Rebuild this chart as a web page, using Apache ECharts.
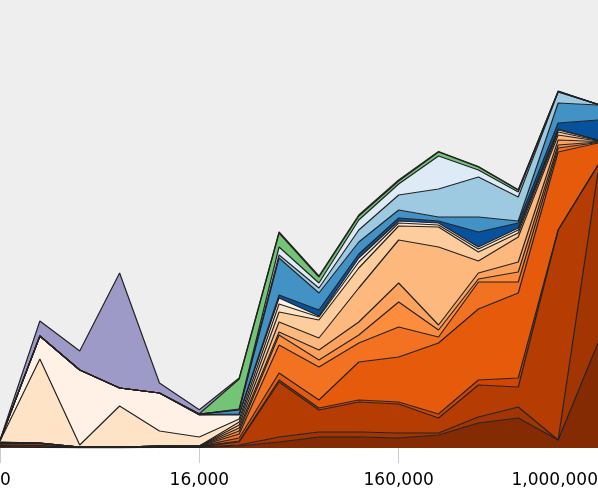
<!DOCTYPE html>
<html>
<head>
<meta charset="utf-8">
<script src="https://cdn.jsdelivr.net/npm/echarts@6.0.0/dist/echarts.min.js"></script>
<style>
  html, body { margin: 0; padding: 0; background: #fff; }
  #main { width: 598px; height: 491px; }
</style>
</head>
<body>
<div id="main"></div>
<script>
// x positions (16 bins), only some carry a tick label
var xLabels = ['0', '', '', '', '', '16,000', '', '', '', '', '160,000', '', '', '', '', '1,000,000'];

// stacked layers, bottom to top
var darkBrown  = [1, 0.5, 0.3, 0.3, 0.5, 0.5, 2, 6, 11, 11, 10, 13, 25, 30, 8, 105];
var brown      = [0.5, 0.5, 0, 0, 0.3, 0.3, 1, 5, 5, 5, 5, 2, 6, 11, 0, 171];
var rust       = [1, 1, 0.3, 0.3, 0.5, 0.5, 3, 55, 22, 30, 29, 15, 32, 20, 210, 7];
var rustThin   = [0.5, 0.5, 0, 0, 0, 0, 1, 2, 2, 2, 2, 4, 5, 9, 0, 0];
var orange     = [1, 1.5, 0.4, 0.4, 0.5, 0.5, 3, 7, 8, 38, 45, 71, 71, 85, 78, 22];
var orange2    = [0.5, 0.5, 0, 0, 0.2, 0.2, 4, 28, 33, 19, 30, 6, 27, 11, 4, 0.5];
var orange3    = [0.5, 0.3, 0, 0, 0, 0, 3, 10, 7, 8, 25, 7, 3, 10, 3, 0.5];
var orange4    = [0.3, 0.2, 0, 0, 0, 0, 3, 3, 10, 13, 19, 5, 6, 10, 5, 0.5];
var peach1     = [0.3, 0, 0, 0, 0, 0, 3, 10, 12, 34, 43, 78, 12, 25, 5, 0.5];
var peach2     = [0.3, 0, 0, 0, 0, 0, 3, 10, 18, 20, 14, 20, 9, 4, 3, 0.5];
var peach3     = [1, 84, 2, 41, 15, 9, 3, 8, 3, 6, 3, 2, 3, 3, 2, 0.5];
var cream      = [0.5, 23, 75, 18, 38, 22, 4, 6, 1, 4, 2, 2, 2, 2, 1, 0];
var navy       = [0, 0, 0, 0, 0, 0.3, 1, 3, 6, 4, 3, 2, 15, 5, 6, 20];
var blue       = [0, 0, 0, 0, 0, 0.5, 4, 37, 17, 12, 8, 4, 15, 2, 20, 15];
var skyBlue    = [0, 0, 0, 0, 0, 0, 0.5, 3, 5, 12, 15, 28, 40, 24, 11, 0.5];
var paleBlue   = [0, 0, 0, 0, 0, 0, 0.5, 8, 5, 10, 11, 33, 7, 5, 0.3, 0];
var green      = [0, 0, 0, 0, 0, 0.5, 30, 14, 6, 4, 3, 4, 3, 2, 0.3, 0];
var purple     = [0.5, 15, 19, 115, 10, 4, 1, 1, 1, 1, 1, 0.5, 0.5, 0.3, 0.3, 0];

var layers = [
    { name: 'darkBrown', data: darkBrown, color: '#842b04' },
    { name: 'brown', data: brown, color: '#a33503' },
    { name: 'rust', data: rust, color: '#b53c02' },
    { name: 'rustThin', data: rustThin, color: '#d34602' },
    { name: 'orange', data: orange, color: '#e65a0c' },
    { name: 'orange2', data: orange2, color: '#f27222' },
    { name: 'orange3', data: orange3, color: '#fd8d3c' },
    { name: 'orange4', data: orange4, color: '#fda25c' },
    { name: 'peach1', data: peach1, color: '#fdb97d' },
    { name: 'peach2', data: peach2, color: '#fdcd9d' },
    { name: 'peach3', data: peach3, color: '#fee3c6' },
    { name: 'cream', data: cream, color: '#fff1e5' },
    { name: 'navy', data: navy, color: '#08519c' },
    { name: 'blue', data: blue, color: '#4292c6' },
    { name: 'skyBlue', data: skyBlue, color: '#9ecae1' },
    { name: 'paleBlue', data: paleBlue, color: '#deebf7' },
    { name: 'green', data: green, color: '#74c476' },
    { name: 'purple', data: purple, color: '#9e9ac8' }
];

var myChart = echarts.init(document.getElementById('main'));

var hasLabel = function (idx) { return xLabels[idx] !== ''; };

myChart.setOption({
    animation: false,
    grid: {
        left: 0, right: 0, top: 0, bottom: 43,
        outerBoundsMode: 'none',
        containLabel: false,
        show: true,
        backgroundColor: '#eeeeee',
        borderWidth: 0
    },
    xAxis: {
        type: 'category',
        data: xLabels,
        boundaryGap: false,
        axisLine: { show: false },
        axisTick: {
            show: true,
            interval: hasLabel,
            length: 15,
            lineStyle: { color: '#cccccc', width: 1 }
        },
        axisLabel: {
            interval: hasLabel,
            margin: 24,
            fontSize: 17,
            fontFamily: 'DejaVu Sans',
            color: '#000',
            alignMinLabel: 'left',
            alignMaxLabel: 'right'
        },
        splitLine: { show: false }
    },
    yAxis: {
        type: 'value',
        min: 0,
        max: 448,
        show: false,
        splitLine: { show: false }
    },
    series: layers.map(function (l) {
        return {
            name: l.name,
            type: 'line',
            stack: 'all',
            data: l.data,
            symbol: 'none',
            lineStyle: { color: '#222', width: 1.2 },
            areaStyle: { color: l.color, opacity: 1 },
            itemStyle: { color: l.color }
        };
    })
});
</script>
</body>
</html>
